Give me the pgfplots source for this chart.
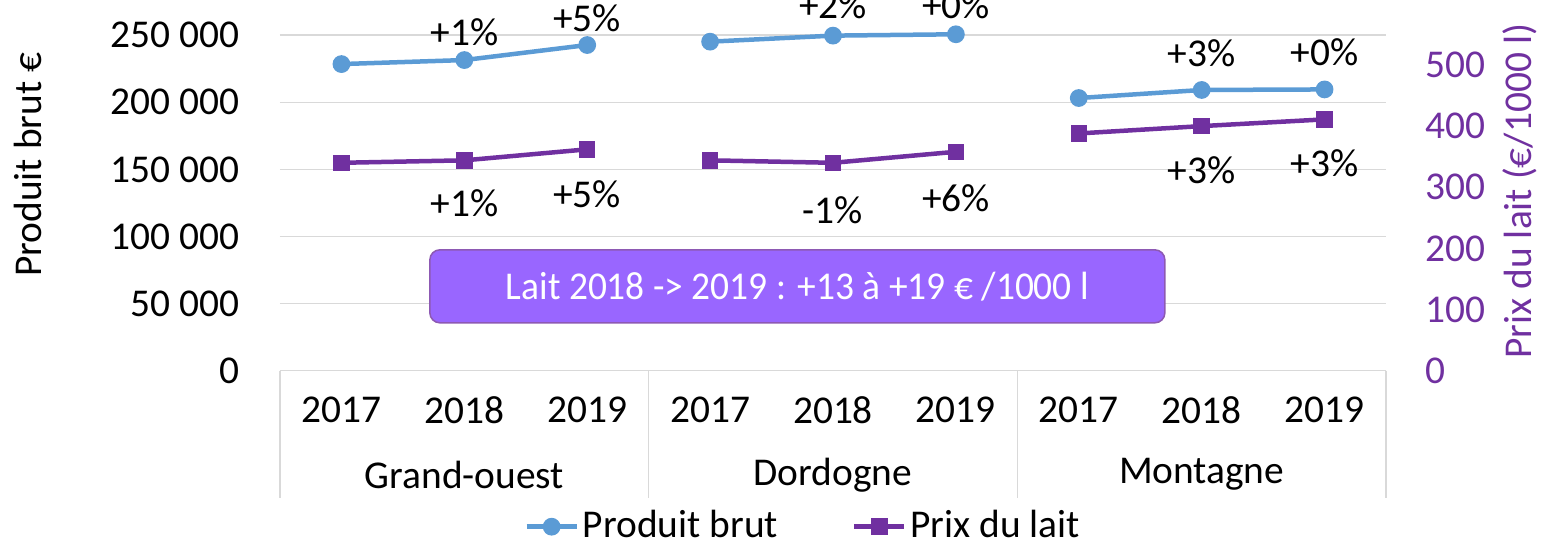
\documentclass[border=0pt]{standalone}
\usepackage{fontspec}
\setmainfont{Carlito}
\usepackage{graphicx}
\usepackage{pgfplots}
\usepackage{pgfplotstable}
\pgfplotsset{compat=1.18}
\definecolor{pbblue}{HTML}{5B9BD5}
\definecolor{lait}{HTML}{7030A0}
\definecolor{boxfill}{HTML}{9966FF}
\definecolor{gridc}{HTML}{D9D9D9}

\pgfplotstableread{
x y
0 228500
1 231500
2 242700
2.5 nan
3 245200
4 249700
5 250700
5.5 nan
6 203200
7 209200
8 209600
}\produit

\pgfplotstableread{
x y
0 340
1 344
2 362
2.5 nan
3 344
4 340
5 358
5.5 nan
6 388
7 400
8 411
}\lait

\begin{document}
\fontsize{19.7}{23.6}\selectfont
\begin{tikzpicture}
\pgfplotsset{
  common/.style={
    scale only axis, width=553pt, height=185.35pt,
    xmin=-0.5, xmax=8.5,
    axis line style={draw=none},
    major tick length=0pt,
    unbounded coords=jump,
    clip=false,
    /pgf/number format/assume math mode=true,
    font=\fontsize{19.7}{23.6}\selectfont,
  }
}
\begin{axis}[common,
  ymin=0, ymax=276250,
  ytick={0,50000,100000,150000,200000,250000},
  yticklabels={0,50 000,100 000,150 000,200 000,250 000},
  ymajorgrids, grid style={gridc, line width=0.75pt},
  yticklabel style={inner sep=0pt, xshift=-20pt},
  xtick={0,1,2,3,4,5,6,7,8},
  xticklabels={2017,2018,2019,2017,2018,2019,2017,2018,2019},
  xticklabel style={anchor=center, inner sep=0pt, yshift=-19.5pt},
]
\addplot[pbblue, line width=2.25pt, mark=*, mark size=3.3pt] table[x=x,y=y]{\produit};
% separators
\draw[gridc, line width=0.75pt] (axis cs:-0.5,0) -- ++(0pt,-63.5pt);
\draw[gridc, line width=0.75pt] (axis cs:2.5,0) -- ++(0pt,-63.5pt);
\draw[gridc, line width=0.75pt] (axis cs:5.5,0) -- ++(0pt,-63.5pt);
\draw[gridc, line width=0.75pt] (axis cs:8.5,0) -- ++(0pt,-63.5pt);
% group names
\node at ([yshift=-52pt]axis cs:1,0) {Grand-ouest};
\node at ([yshift=-52pt]axis cs:4,0) {Dordogne};
\node at ([yshift=-52pt]axis cs:7,0) {Montagne};
% labels produit brut
\node at (axis cs:1,252400) {+1\%};
\node at (axis cs:2,262800) {+5\%};
\node at (axis cs:4,272500) {+2\%};
\node at (axis cs:5,272500) {+0\%};
\node at (axis cs:7,236700) {+3\%};
\node at (axis cs:8,237500) {+0\%};
% labels prix du lait
\node at (axis cs:1,125000) {+1\%};
\node at (axis cs:2,131700) {+5\%};
\node at (axis cs:4,119700) {-1\%};
\node at (axis cs:5,128700) {+6\%};
\node at (axis cs:7,149600) {+3\%};
\node at (axis cs:8,154800) {+3\%};
\node[rotate=90] at ([xshift=-126pt,yshift=103pt]rel axis cs:0,0) {Produit brut €};
\end{axis}
\begin{axis}[common,
  ymin=0, ymax=606.2,
  xtick=\empty,
  ytick={0,100,200,300,400,500},
  yticklabel pos=right,
  yticklabel style={inner sep=0pt, xshift=19.5pt, anchor=west, text=lait},
  legend columns=2,
  legend style={draw=none, fill=none, at={(0.474,-0.4208)}, anchor=center,
    font=\fontsize{19.7}{23.6}\selectfont,
    /tikz/every even column/.append style={column sep=35pt}},
  legend image code/.code={\draw[mark repeat=2, mark phase=2] plot coordinates {(0pt,0pt) (12.5pt,0pt) (25pt,0pt)};},
]
\addlegendimage{pbblue, line width=2.25pt, mark=*, mark size=3.3pt}
\addlegendentry{Produit brut}
\addplot[lait, line width=2.25pt, mark=square*, mark size=3pt] table[x=x,y=y]{\lait};
\addlegendentry{Prix du lait}
\node[fill=boxfill, draw=lait!80, line width=0.75pt, rounded corners=5pt,
  minimum width=367.5pt, minimum height=36.5pt, text=white, inner sep=0pt]
  at (axis cs:3.71,138) {\scalebox{0.95}[1]{Lait 2018 -> 2019 : +13 à +19 € /1000 l}};
\node[rotate=90, text=lait] at ([xshift=67pt,yshift=90pt]rel axis cs:1,0) {Prix du lait (€/1000 l)};
\end{axis}
\pgfresetboundingbox
\path[use as bounding box] (-140pt,-88.5pt) rectangle (643pt,185.35pt);
\end{tikzpicture}
\end{document}
